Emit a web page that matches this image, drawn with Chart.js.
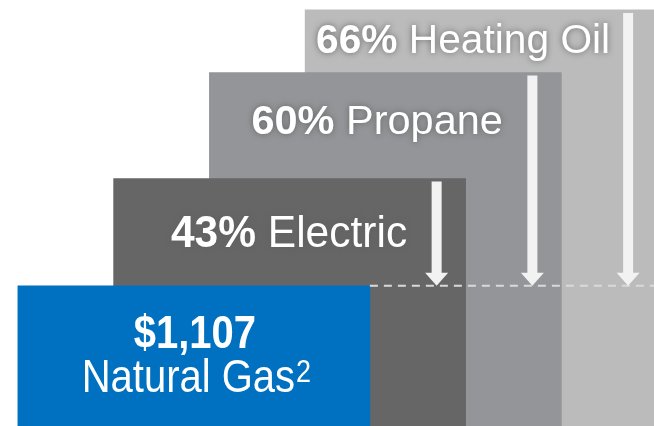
<!DOCTYPE html>
<html>
<head>
<meta charset="utf-8">
<script src="https://cdn.jsdelivr.net/npm/chart.js@4.4.1/dist/chart.umd.min.js"></script>
<style>
  html, body { margin: 0; padding: 0; background: #ffffff; overflow: hidden; }
  #wrap { position: relative; width: 654px; height: 428px; }
</style>
</head>
<body>
<div id="wrap"><canvas id="c"></canvas></div>
<script>
// ---- data (drawn from back to front) ----
const categories = ['Heating Oil', 'Propane', 'Electric', 'Natural Gas'];
const annualCost = [3256, 2768, 1942, 1107];
const headlineText = ['66%', '60%', '43%', '$1,107'];
const nameText = ['Heating Oil', 'Propane', 'Electric', 'Natural Gas'];
const footnoteMark = ['', '', '', '2'];
const barColors = ['#BBBBBB', '#939598', '#666666', '#0070C0'];
const baseCategory = 'Natural Gas';

// ---- label layout (styles/positions, kept apart from data) ----
const labelLayout = {
  'Heating Oil': { right: 47, dy: 43.5, size: 40.7, sy: 1.0 },
  'Propane':     { right: 58.5, dy: 61.7, size: 41.5, sy: 0.97 },
  'Electric':    { right: 58.5, dy: 68, size: 42.5, sy: 1.05 }
};
const FONT = '"Liberation Sans", Arial, Helvetica, sans-serif';

const overlayPlugin = {
  id: 'overlay',
  afterDatasetsDraw(chart) {
    const ctx = chart.ctx;
    const meta = chart.getDatasetMeta(0);
    const yS = chart.scales.y;
    const bi = categories.indexOf(baseCategory);
    const lineY = yS.getPixelForValue(annualCost[bi]);
    const base = meta.data[bi];
    const baseRight = base.x + base.width / 2;

    // dashed reference line at natural gas level
    ctx.save();
    ctx.strokeStyle = '#D9D9D9';
    ctx.lineWidth = 2;
    ctx.setLineDash([8, 6]);
    ctx.beginPath();
    ctx.moveTo(baseRight, lineY);
    ctx.lineTo(chart.width, lineY);
    ctx.stroke();
    ctx.restore();

    // arrows
    categories.forEach((cat, i) => {
      if (i === bi) return;
      const bar = meta.data[i];
      const x = bar.x + bar.width / 2 - 29;
      const top = bar.y + 3;
      const headH = 13, shaftHW = 5, headHW = 11.5;
      ctx.save();
      ctx.fillStyle = '#F2F2F2';
      ctx.beginPath();
      ctx.moveTo(x - shaftHW, top);
      ctx.lineTo(x + shaftHW, top);
      ctx.lineTo(x + shaftHW, lineY - headH);
      ctx.lineTo(x + headHW, lineY - headH);
      ctx.lineTo(x, lineY);
      ctx.lineTo(x - headHW, lineY - headH);
      ctx.lineTo(x - shaftHW, lineY - headH);
      ctx.closePath();
      ctx.fill();
      ctx.restore();
    });

    // gray labels: bold percentage + regular name, right aligned
    categories.forEach((cat, i) => {
      if (i === bi) return;
      const L = labelLayout[cat];
      const bar = meta.data[i];
      const right = bar.x + bar.width / 2 - L.right;
      const baseline = bar.y + L.dy;
      ctx.save();
      ctx.font = 'bold ' + L.size + 'px ' + FONT;
      const w1 = ctx.measureText(headlineText[i]).width;
      ctx.font = L.size + 'px ' + FONT;
      const w2 = ctx.measureText(' ' + nameText[i]).width;
      const x0 = right - (w1 + w2);
      ctx.translate(x0, baseline);
      ctx.scale(1, L.sy);
      ctx.fillStyle = '#FFFFFF';
      ctx.shadowColor = 'rgba(95,95,95,0.9)';
      ctx.shadowBlur = 6;
      ctx.textBaseline = 'alphabetic';
      ctx.textAlign = 'left';
      ctx.font = 'bold ' + L.size + 'px ' + FONT;
      ctx.fillText(headlineText[i], 0, 0);
      ctx.font = L.size + 'px ' + FONT;
      ctx.fillText(' ' + nameText[i], w1, 0);
      ctx.restore();
    });

    // natural gas label
    {
      const bar = base;
      const cx = bar.x + 1;
      const sy = 1.17;
      ctx.save();
      ctx.fillStyle = '#FFFFFF';
      ctx.textBaseline = 'alphabetic';
      ctx.font = 'bold 40px ' + FONT;
      ctx.textAlign = 'center';
      ctx.save();
      ctx.translate(cx, bar.y + 62);
      ctx.scale(1, sy);
      ctx.fillText(headlineText[bi], 0, 0);
      ctx.restore();

      const gap = 1;
      ctx.font = '40px ' + FONT;
      const wn = ctx.measureText(nameText[bi]).width;
      ctx.font = '27px ' + FONT;
      const ws = ctx.measureText(footnoteMark[bi]).width;
      const x0 = cx + 1.5 - (wn + gap + ws) / 2;
      ctx.textAlign = 'left';
      ctx.save();
      ctx.translate(x0, bar.y + 106.5);
      ctx.scale(1, sy);
      ctx.font = '40px ' + FONT;
      ctx.fillText(nameText[bi], 0, 0);
      ctx.font = '27px ' + FONT;
      ctx.fillText(footnoteMark[bi], wn + gap, -8.5);
      ctx.restore();
      ctx.restore();
    }
  }
};

new Chart(document.getElementById('c'), {
  type: 'bar',
  data: {
    labels: categories,
    datasets: [{
      data: annualCost,
      backgroundColor: barColors,
      borderWidth: 0,
      barThickness: 352,
      clip: false
    }]
  },
  options: {
    responsive: true,
    maintainAspectRatio: false,
    animation: false,
    events: [],
    layout: { padding: { left: 146, right: 125, top: 0, bottom: 0 } },
    plugins: { legend: { display: false }, tooltip: { enabled: false } },
    scales: {
      x: { type: 'category', reverse: true, display: false, offset: true },
      y: { display: false, min: 0, max: 3333 }
    }
  },
  plugins: [overlayPlugin]
});
</script>
</body>
</html>
